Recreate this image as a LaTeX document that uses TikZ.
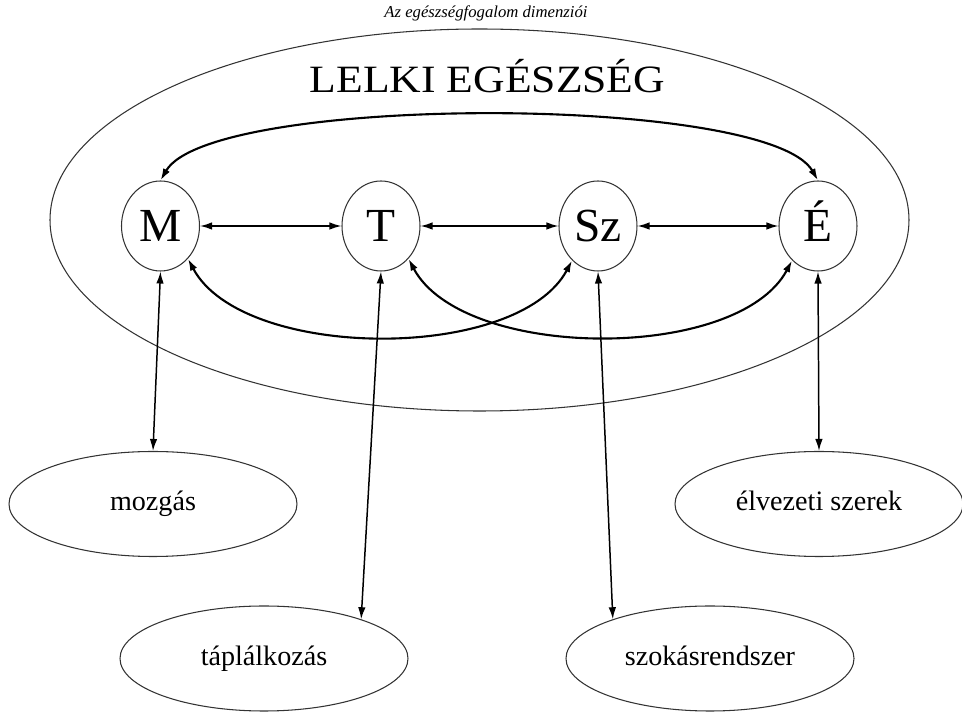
\documentclass[tikz,border=0pt]{standalone}
\usepackage{fontspec}
\setmainfont{Liberation Serif}
\newfontfamily\szeles[FakeStretch=1.13]{Liberation Serif}
\usetikzlibrary{shapes.geometric,arrows.meta}

\tikzset{
  kor/.style={ellipse, draw=black!80, line width=0.6pt, inner sep=0pt,
    minimum width=1.56cm, minimum height=1.8cm, font=\fontsize{27}{27}\selectfont,
    text height=0.63cm, text depth=0pt},
  terulet/.style={ellipse, draw=black!80, line width=0.6pt, inner sep=0pt,
    minimum width=5.76cm, minimum height=2.1cm, font=\fontsize{16}{16}\selectfont,
    text height=0.5cm, text depth=0.22cm},
  nyil/.style={>={Latex[length=0.24cm,width=0.15cm]}, <->, line width=0.85pt},
  ivnyil/.style={nyil, line width=1.2pt}
}

\begin{document}
\begin{tikzpicture}
\useasboundingbox (0,0) rectangle (19.24,-14.24);

% cím
\node (cim) at (9.72,-0.26) {\fontsize{9.5}{10}\selectfont\itshape Az egészségfogalom dimenziói};

% lelki egészség
\draw[black!80, line width=0.6pt] (9.59,-4.4) ellipse (8.59 and 3.82);
\node[text height=0.51cm, text depth=0pt] (lelki) at (9.75,-1.59)
  {\szeles\fontsize{22}{22}\selectfont LELKI EGÉSZSÉG};

% dimenziók
\foreach \n/\t/\x in {M/M/3.21, T/T/7.62, Sz/Sz/11.96, E/É/16.36} {
  \node[kor] (\n) at (\x,-4.52) {\t};
}

% területek
\node[terulet] (mozgas) at (3.06,-10.08) {mozgás};
\node[terulet] (elvezet) at (16.38,-10.08) {élvezeti szerek};
\node[terulet] (taplal) at (5.28,-13.17) {táplálkozás};
\node[terulet] (szokas) at (14.2,-13.17) {szokásrendszer};

% vízszintes nyilak
\draw[nyil] (M) -- (T);
\draw[nyil] (T) -- (Sz);
\draw[nyil] (Sz) -- (E);

% ívek
\draw[ivnyil] (M.north) to[out=60, in=120, looseness=0.39] (E.north);
\draw[ivnyil] (M.-50) to[out=-62, in=-118, looseness=0.77] (Sz.-127);
\draw[ivnyil] (T.-50) to[out=-62, in=-118, looseness=0.77] (E.-127);

% függőleges nyilak
\draw[nyil] (M.south) -- (mozgas.north);
\draw[nyil] (T.south) -- (taplal.22);
\draw[nyil] (Sz.south) -- (szokas.158);
\draw[nyil] (E.south) -- (elvezet.north);

\end{tikzpicture}
\end{document}
